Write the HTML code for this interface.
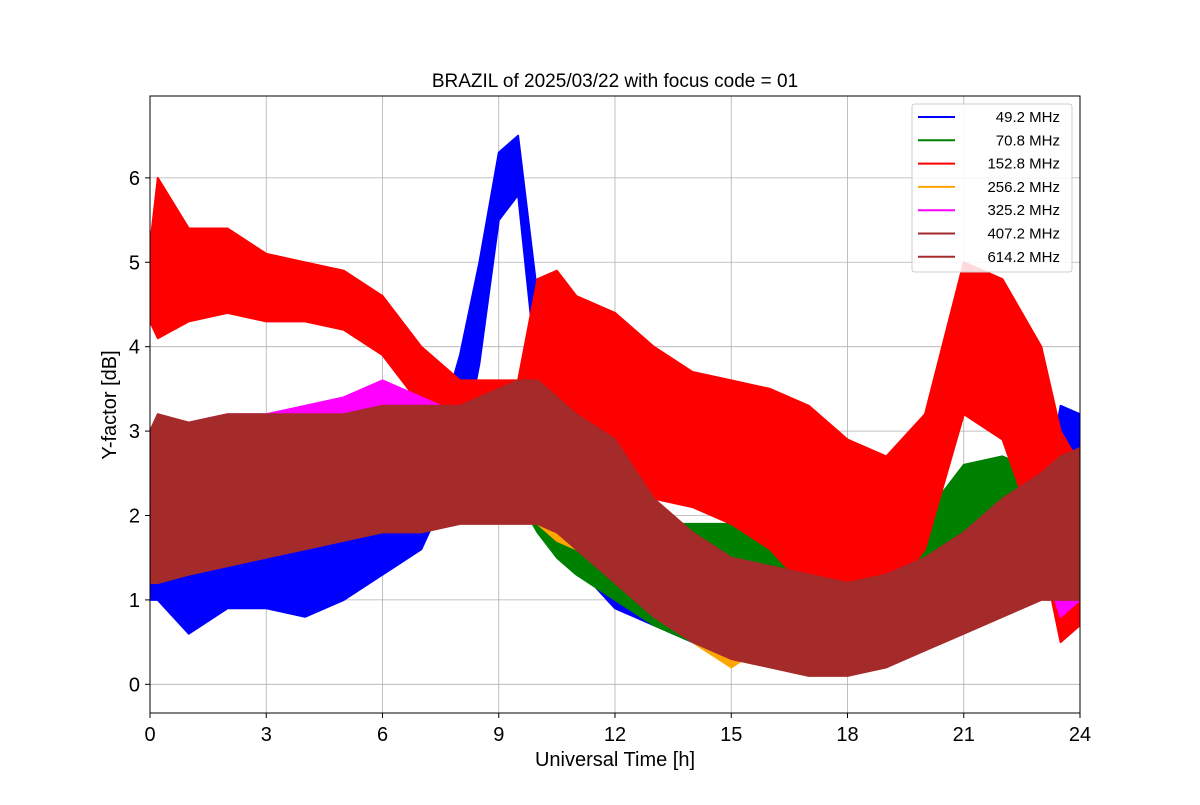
<!DOCTYPE html>
<html><head><meta charset="utf-8"><style>
body{margin:0;background:#fff}
svg{font-family:"Liberation Sans","DejaVu Sans",sans-serif}
</style></head><body>
<svg id="chart" width="1200" height="800" xmlns="http://www.w3.org/2000/svg">
<rect width="1200" height="800" fill="#fff"/>
<text x="615" y="87" font-size="19" text-anchor="middle">BRAZIL of 2025/03/22 with focus code = 01</text>
<g id="grid"></g>
<g id="series"></g>
<rect x="150" y="96" width="930" height="617" fill="none" stroke="#000" stroke-width="1"/>
<g id="ticks"></g>
<text x="615" y="766" font-size="20" text-anchor="middle">Universal Time [h]</text>
<text x="116" y="405" font-size="20" text-anchor="middle" transform="rotate(-90 116 405)">Y-factor [dB]</text>
<g id="legend"></g>
</svg>
<script>
const hours=[0,0.2,1,2,3,4,5,6,7,8,8.5,9,9.5,10,10.5,11,12,13,14,15,16,17,18,19,20,21,22,23,23.5,24];
const seriesNames=["49.2 MHz","70.8 MHz","152.8 MHz","256.2 MHz","325.2 MHz","407.2 MHz","614.2 MHz"];
const seriesColors=["blue","green","red","orange","magenta","brown","brown"];
const blueLo=[1.0,1.0,0.6,0.9,0.9,0.8,1.0,1.3,1.6,2.6,3.8,5.5,5.8,3.6,2.2,1.4,0.9,0.7,0.5,0.4,0.8,0.9,0.9,0.9,0.9,0.9,1.0,1.2,2.6,2.5];
const blueHi=[2.0,1.9,1.6,1.6,1.6,1.7,1.8,1.9,2.3,3.9,5.0,6.3,6.5,4.6,3.0,2.3,1.8,1.5,1.3,1.3,1.5,1.5,1.5,1.5,1.5,1.5,1.6,2.0,3.3,3.2];
const greenLo=[1.6,1.7,1.7,1.8,1.8,1.9,2.0,2.1,2.1,2.2,2.3,2.3,2.2,1.8,1.5,1.3,1.0,0.7,0.5,0.9,1.1,1.1,1.1,1.1,1.2,1.5,1.6,1.3,1.2,1.5];
const greenHi=[2.2,2.2,2.2,2.3,2.3,2.4,2.5,2.7,2.7,2.8,2.9,3.0,2.9,2.5,2.2,2.1,2.0,1.9,1.9,1.9,1.8,1.8,1.9,1.9,2.0,2.6,2.7,2.5,2.4,2.4];
const redLo=[4.3,4.1,4.3,4.4,4.3,4.3,4.2,3.9,3.3,3.0,3.0,3.0,3.0,2.6,2.5,2.5,2.3,2.2,2.1,1.9,1.6,1.1,1.0,1.0,1.6,3.2,2.9,1.6,0.5,0.7];
const redHi=[5.2,6.0,5.4,5.4,5.1,5.0,4.9,4.6,4.0,3.6,3.6,3.6,3.6,4.8,4.9,4.6,4.4,4.0,3.7,3.6,3.5,3.3,2.9,2.7,3.2,5.0,4.8,4.0,3.0,2.6];
const orangeLo=[1.7,1.8,1.9,2.0,2.0,2.1,2.2,2.3,2.3,2.3,2.3,2.3,2.2,1.9,1.7,1.6,1.3,0.9,0.5,0.2,0.5,0.6,0.7,0.7,0.8,1.0,1.1,1.2,1.2,1.3];
const orangeHi=[2.1,2.1,2.2,2.3,2.3,2.4,2.5,2.7,2.6,2.6,2.6,2.6,2.5,2.2,2.0,1.9,1.7,1.3,0.9,0.6,0.8,0.9,1.0,1.0,1.1,1.3,1.4,1.6,1.6,1.6];
const magentaLo=[2.2,2.4,2.5,2.5,2.5,2.6,2.8,2.9,2.8,2.7,2.7,2.7,2.8,2.7,2.5,2.2,1.7,1.2,0.9,0.6,0.5,0.5,0.5,0.6,0.7,1.0,1.3,1.5,0.8,1.0];
const magentaHi=[2.9,3.1,3.1,3.2,3.2,3.3,3.4,3.6,3.4,3.2,3.3,3.4,3.5,3.3,3.1,2.9,2.6,2.0,1.6,1.4,1.3,1.2,1.1,1.2,1.3,1.6,2.0,2.3,2.2,2.4];
const b407Lo=[2.0,2.1,2.2,2.2,2.3,2.3,2.4,2.4,2.5,2.5,2.5,2.5,2.6,2.5,2.3,2.1,1.7,1.2,0.9,0.7,0.6,0.5,0.5,0.5,0.7,0.9,1.2,1.5,1.6,1.7];
const b407Hi=[3.0,3.2,3.1,3.2,3.2,3.2,3.2,3.3,3.3,3.3,3.4,3.5,3.6,3.6,3.4,3.2,2.9,2.2,1.8,1.5,1.4,1.3,1.2,1.3,1.5,1.8,2.2,2.5,2.7,2.8];
const b614Lo=[1.2,1.2,1.3,1.4,1.5,1.6,1.7,1.8,1.8,1.9,1.9,1.9,1.9,1.9,1.8,1.6,1.2,0.8,0.5,0.3,0.2,0.1,0.1,0.2,0.4,0.6,0.8,1.0,1.0,1.0];
const b614Hi=[2.2,2.3,2.3,2.4,2.4,2.5,2.5,2.6,2.6,2.6,2.6,2.6,2.6,2.6,2.4,2.2,1.8,1.3,1.0,0.8,0.7,0.6,0.6,0.7,0.9,1.2,1.5,1.8,1.9,2.0];
const xTicks=[0,3,6,9,12,15,18,21,24];
const yTicks=[0,1,2,3,4,5,6];

const NS="http://www.w3.org/2000/svg";
const X0=150,X1=1080,Y0=713,Y1=96,XMIN=0,XMAX=24,YMIN=-0.34,YMAX=6.97;
const xs=v=>X0+(v-XMIN)/(XMAX-XMIN)*(X1-X0);
const ys=v=>Y0-(v-YMIN)/(YMAX-YMIN)*(Y0-Y1);
function mk(tag,attrs,parent){const e=document.createElementNS(NS,tag);for(const k in attrs)e.setAttribute(k,attrs[k]);parent.appendChild(e);return e;}
const grid=document.getElementById('grid'),ticks=document.getElementById('ticks'),ser=document.getElementById('series'),leg=document.getElementById('legend');
xTicks.forEach(t=>{
  const l=mk('line',{x1:xs(t),x2:xs(t),y1:Y1,y2:Y0,stroke:'#b0b0b0','stroke-width':0.8},grid);
  
  
  mk('line',{x1:xs(t),x2:xs(t),y1:Y0,y2:Y0+5,stroke:'#000'},ticks);
  const tx=mk('text',{x:xs(t),y:Y0+28,'font-size':20,'text-anchor':'middle'},ticks);
  tx.textContent=t;
  
  
});
yTicks.forEach(t=>{
  const l=mk('line',{x1:X0,x2:X1,y1:ys(t),y2:ys(t),stroke:'#b0b0b0','stroke-width':0.8},grid);
  
  
  mk('line',{x1:X0-5,x2:X0,y1:ys(t),y2:ys(t),stroke:'#000'},ticks);
  const tx=mk('text',{x:X0-10,y:ys(t)+7,'font-size':20,'text-anchor':'end'},ticks);
  tx.textContent=t;
  
  
});
const bands=[[blueLo,blueHi],[greenLo,greenHi],[redLo,redHi],[orangeLo,orangeHi],[magentaLo,magentaHi],[b407Lo,b407Hi],[b614Lo,b614Hi]];
const clip=mk('clipPath',{id:'pc'},mk('defs',{},document.getElementById('chart')));
mk('rect',{x:X0,y:Y1,width:X1-X0,height:Y0-Y1},clip);
ser.setAttribute('clip-path','url(#pc)');
bands.forEach((b,i)=>{
  let d='';
  hours.forEach((h,j)=>{d+=(j?'L':'M')+xs(h).toFixed(1)+','+ys(b[1][j]).toFixed(1);});
  for(let j=hours.length-1;j>=0;j--)d+='L'+xs(hours[j]).toFixed(1)+','+ys(b[0][j]).toFixed(1);
  const p=mk('path',{d:d+'Z',fill:seriesColors[i],stroke:seriesColors[i],'stroke-width':2,'stroke-linejoin':'round'},ser);
  
  
});
mk('rect',{x:912,y:104,width:160,height:168,rx:3,fill:'#fff','fill-opacity':0.85,stroke:'#ccc'},leg);
seriesNames.forEach((n,i)=>{
  const y=117+i*23.3;
  const l=mk('line',{x1:918,x2:955,y1:y,y2:y,stroke:seriesColors[i],'stroke-width':2},leg);
  
  
  const t=mk('text',{x:1060,y:y+5,'font-size':15,'text-anchor':'end'},leg);
  t.textContent=n;
  
  
});
</script>
</body></html>
